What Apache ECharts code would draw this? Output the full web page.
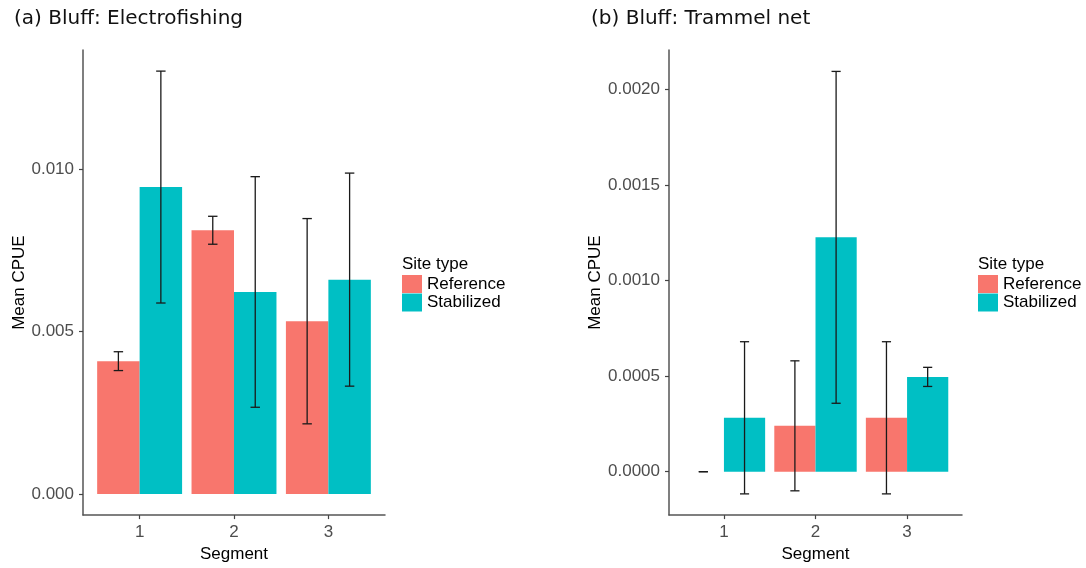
<!DOCTYPE html>
<html>
<head>
<meta charset="utf-8">
<script src="https://cdn.jsdelivr.net/npm/echarts@6/dist/echarts.min.js"></script>
<style>
html,body{margin:0;padding:0;background:#fff;}
#chart{width:1086px;height:568px;}
</style>
</head>
<body>
<div id="chart"></div>
<script>
// ---- data ----
const segments = ['1', '2', '3'];
const siteTypes = ['Reference', 'Stabilized'];
const panelTitles = ['(a) Bluff: Electrofishing', '(b) Bluff: Trammel net'];
const yTicksA = [0, 0.005, 0.010];
const yTicksB = [0, 0.0005, 0.0010, 0.0015, 0.0020];

// (a) Electrofishing: mean CPUE and half-width of error bar
const efRefMean  = [0.00409, 0.00812, 0.00532];
const efRefErr   = [0.00029, 0.00043, 0.00316];
const efStabMean = [0.00945, 0.00622, 0.00660];
const efStabErr  = [0.00357, 0.00355, 0.00328];

// (b) Trammel net
const tnRefMean  = [0.000000, 0.000240, 0.000282];
const tnRefErr   = [0.000000, 0.000340, 0.000398];
const tnStabMean = [0.000282, 0.001226, 0.000496];
const tnStabErr  = [0.000398, 0.000868, 0.000050];

// ---- styling ----
const FONT = '"Liberation Sans", Arial, sans-serif';
const TFONT = '"DejaVu Sans", sans-serif';
const colors = ['#F8766D', '#00BFC4'];
const BAR_W = 0.45;   // dodge width of one bar (units of segment)
const WHISK = 0.05;   // half whisker width

function makeBar(offset) {
  return function (params, api) {
    const cat = api.value(0), val = api.value(1);
    const p0 = api.coord([cat + offset, val]);
    const p1 = api.coord([cat + offset + BAR_W, 0]);
    return {
      type: 'rect',
      shape: { x: p0[0], y: Math.min(p0[1], p1[1]), width: p1[0] - p0[0], height: Math.abs(p1[1] - p0[1]) },
      style: { fill: api.visual('color') }
    };
  };
}
function makeErr(offset) {
  return function (params, api) {
    const cat = api.value(0), m = api.value(1), e = api.value(2);
    const x = cat + offset;
    const top = api.coord([x, m + e]);
    const bot = api.coord([x, m - e]);
    const l = api.coord([x - WHISK, 0])[0];
    const r = api.coord([x + WHISK, 0])[0];
    const st = { stroke: '#1a1a1a', lineWidth: 1.3 };
    return {
      type: 'group',
      children: [
        { type: 'line', shape: { x1: top[0], y1: top[1], x2: bot[0], y2: bot[1] }, style: st },
        { type: 'line', shape: { x1: l, y1: top[1], x2: r, y2: top[1] }, style: st },
        { type: 'line', shape: { x1: l, y1: bot[1], x2: r, y2: bot[1] }, style: st }
      ]
    };
  };
}

function panelSeries(idx, refM, refE, stabM, stabE) {
  const refData = segments.map((s, i) => [i + 1, refM[i]]);
  const stabData = segments.map((s, i) => [i + 1, stabM[i]]);
  const refErr = segments.map((s, i) => [i + 1, refM[i], refE[i]]);
  const stabErr = segments.map((s, i) => [i + 1, stabM[i], stabE[i]]);
  return [
    { type: 'custom', name: siteTypes[0], xAxisIndex: idx, yAxisIndex: idx, renderItem: makeBar(-BAR_W), data: refData, itemStyle: { color: colors[0] }, z: 2 },
    { type: 'custom', name: siteTypes[1], xAxisIndex: idx, yAxisIndex: idx, renderItem: makeBar(0), data: stabData, itemStyle: { color: colors[1] }, z: 2 },
    { type: 'custom', name: 'errRef' + idx, xAxisIndex: idx, yAxisIndex: idx, renderItem: makeErr(-BAR_W / 2), data: refErr, z: 3 },
    { type: 'custom', name: 'errStab' + idx, xAxisIndex: idx, yAxisIndex: idx, renderItem: makeErr(BAR_W / 2), data: stabErr, z: 3 }
  ];
}

function xAxis(idx) {
  return {
    type: 'value', gridIndex: idx, min: 0.4, max: 3.6,
    name: 'Segment', nameLocation: 'middle', nameGap: 29,
    nameTextStyle: { fontFamily: FONT, fontSize: 17, color: '#000' },
    splitLine: { show: false },
    axisLine: { show: true, onZero: false, lineStyle: { color: '#555', width: 1.5 } },
    axisTick: { show: true, length: 4, customValues: [1, 2, 3], lineStyle: { color: '#444', width: 1.2 } },
    axisLabel: { customValues: [1, 2, 3], margin: 9, fontFamily: FONT, fontSize: 17, color: '#4d4d4d',
      formatter: v => segments[Math.round(v) - 1] }
  };
}
function yAxis(idx, min, max, ticks, dec, gap) {
  return {
    type: 'value', gridIndex: idx, min: min, max: max,
    name: 'Mean CPUE', nameLocation: 'middle', nameGap: gap, nameRotate: 90,
    nameTextStyle: { fontFamily: FONT, fontSize: 17, color: '#000' },
    splitLine: { show: false },
    axisLine: { show: true, onZero: false, lineStyle: { color: '#555', width: 1.5 } },
    axisTick: { show: true, length: 4, customValues: ticks, lineStyle: { color: '#444', width: 1.2 } },
    axisLabel: { customValues: ticks, margin: 9, fontFamily: FONT, fontSize: 17, color: '#4d4d4d',
      formatter: v => v.toFixed(dec) }
  };
}

function legend(left) {
  return {
    left: left, top: 275, orient: 'vertical', padding: 0, itemGap: 0.5,
    itemWidth: 20, itemHeight: 18, itemTextGap: 2, selectedMode: false,
    textStyle: { fontFamily: FONT, fontSize: 17, color: '#000' },
    data: siteTypes.map(n => ({ name: n, icon: 'rect' }))
  };
}

const chart = echarts.init(document.getElementById('chart'), null, { renderer: 'canvas' });
chart.setOption({
  animation: false,
  backgroundColor: '#fff',
  title: [
    { text: panelTitles[0], left: 14, top: 9, padding: 0, textStyle: { fontFamily: TFONT, fontSize: 20, fontWeight: 'normal', color: '#111' } },
    { text: panelTitles[1], left: 591, top: 9, padding: 0, textStyle: { fontFamily: TFONT, fontSize: 20, fontWeight: 'normal', color: '#111' } }
  ],
  grid: [
    { left: 83, top: 50, width: 302, height: 468 },
    { left: 669, top: 50, width: 293, height: 468 }
  ],
  xAxis: [xAxis(0), xAxis(1)],
  yAxis: [
    yAxis(0, -0.00065, 0.01367, yTicksA, 3, 54),
    yAxis(1, -0.000227, 0.002206, yTicksB, 4, 65)
  ],
  legend: [legend(402), legend(978)],
  graphic: [
    { type: 'text', left: 402, top: 256, style: { text: 'Site type', font: '17px ' + FONT, fill: '#000' } },
    { type: 'text', left: 978, top: 256, style: { text: 'Site type', font: '17px ' + FONT, fill: '#000' } }
  ],
  series: [].concat(
    panelSeries(0, efRefMean, efRefErr, efStabMean, efStabErr),
    panelSeries(1, tnRefMean, tnRefErr, tnStabMean, tnStabErr)
  )
});
</script>
</body>
</html>
